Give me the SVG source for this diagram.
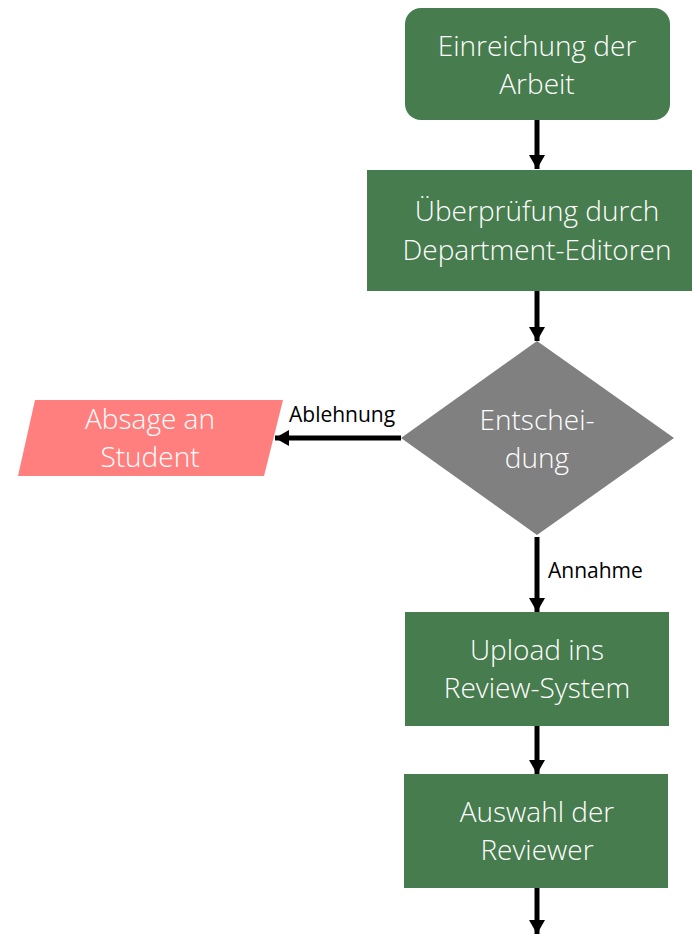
<svg xmlns="http://www.w3.org/2000/svg" width="692" height="934" viewBox="0 0 692 934">
<style>
.box{fill:#477c4e}
.t{font-family:"Open Sans","Liberation Sans",sans-serif;font-size:28px;fill:#ffffff;text-anchor:middle;font-weight:300}
.lbl{font-family:"Open Sans","Liberation Sans",sans-serif;font-size:21px;fill:#000000;font-weight:400}
.c{stroke:#000;stroke-width:5;fill:none}
</style>
<defs>
<marker id="ah" markerUnits="userSpaceOnUse" markerWidth="18" markerHeight="18" refX="14" refY="8" orient="auto">
<path d="M0,0 L14,8 L0,16 Z" fill="#000"/>
</marker>
</defs>
<g id="connectors">
<line class="c" x1="537" y1="120" x2="537" y2="169" marker-end="url(#ah)"/>
<line class="c" x1="537" y1="291" x2="537" y2="341" marker-end="url(#ah)"/>
<line class="c" x1="401" y1="438" x2="275" y2="438" marker-end="url(#ah)"/>
<line class="c" x1="537" y1="537" x2="537" y2="612" marker-end="url(#ah)"/>
<line class="c" x1="537" y1="726" x2="537" y2="774" marker-end="url(#ah)"/>
<line class="c" x1="537" y1="888" x2="537" y2="934" marker-end="url(#ah)"/>
<text class="lbl" x="289" y="422">Ablehnung</text>
<text class="lbl" x="548" y="578">Annahme</text>
</g>
<g id="einreichung">
<rect class="box" x="405" y="8" width="265" height="112" rx="16"/>
<text class="t" x="537" y="56">Einreichung der</text>
<text class="t" x="537" y="94">Arbeit</text>
</g>
<g id="ueberpruefung">
<rect class="box" x="367" y="170" width="325" height="121"/>
<text class="t" x="537" y="221">Überprüfung durch</text>
<text class="t" x="537" y="260">Department-Editoren</text>
</g>
<g id="entscheidung">
<polygon points="537,341 674,438 537,535 401,438" fill="#808080"/>
<text class="t" x="537" y="430">Entschei-</text>
<text class="t" x="537" y="468">dung</text>
</g>
<g id="absage">
<polygon points="35,400 283,400 264,476 18,476" fill="#ff7f7f"/>
<text class="t" x="150" y="429">Absage an</text>
<text class="t" x="150" y="467">Student</text>
</g>
<g id="upload">
<rect class="box" x="405" y="612" width="264" height="114"/>
<text class="t" x="537" y="660">Upload ins</text>
<text class="t" x="537" y="698">Review-System</text>
</g>
<g id="auswahl">
<rect class="box" x="404" y="774" width="264" height="114"/>
<text class="t" x="537" y="822">Auswahl der</text>
<text class="t" x="537" y="860">Reviewer</text>
</g>
</svg>
